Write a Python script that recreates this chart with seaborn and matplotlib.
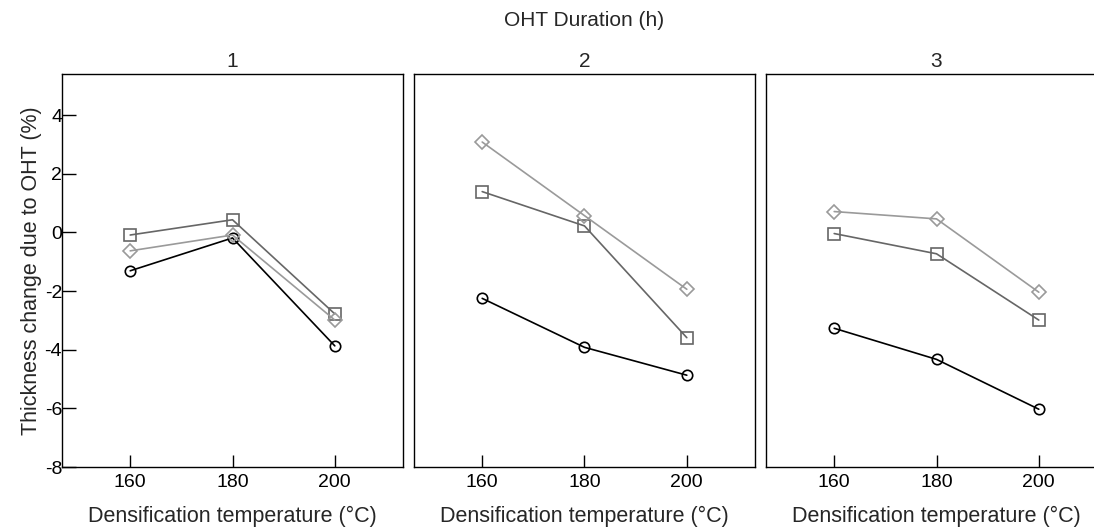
import matplotlib
matplotlib.use("Agg")
import matplotlib.pyplot as plt
import seaborn as sns

sns.set_theme(style="white")
plt.rcParams['font.family'] = ['Liberation Sans', 'DejaVu Sans']

temps = [160, 180, 200]
durations = ["1", "2", "3"]
# series per panel (duration 1, 2, 3)
circle_vals = [[-1.31, -0.19, -3.87], [-2.25, -3.92, -4.87], [-3.27, -4.33, -6.03]]
square_vals = [[-0.09, 0.43, -2.78], [1.39, 0.22, -3.59], [-0.04, -0.73, -2.99]]
diamond_vals = [[-0.63, -0.09, -2.99], [3.08, 0.57, -1.94], [0.71, 0.46, -2.04]]

series = [
    ("circle", circle_vals, "o", "#000000", 7.5),
    ("square", square_vals, "s", "#666666", 8.0),
    ("diamond", diamond_vals, "D", "#9a9a9a", 7.0),
]

W, H = 1094, 529
fig = plt.figure(figsize=(W / 100, H / 100), dpi=100)

lefts = [62, 414, 766]
pw = 341
top, bottom = 74, 467
for i, lx in enumerate(lefts):
    ax = fig.add_axes([lx / W, 1 - bottom / H, pw / W, (bottom - top) / H])
    for name, vals, mk, col, ms in series:
        sns.lineplot(x=temps, y=vals[i], ax=ax, color=col, marker=mk,
                     markerfacecolor="none", markeredgecolor=col, markersize=ms,
                     markeredgewidth=1.2, linewidth=1.2)
    ax.set_xlim(160 - 40 / 3, 200 + 40 / 3)
    ax.set_ylim(-8, 5.4)
    ax.set_xticks(temps)
    ax.set_xticklabels([str(t) for t in temps], fontsize=14)
    ax.tick_params(axis='x', direction='in', length=9, width=1, pad=5, colors='black', bottom=True)
    if i == 0:
        ax.set_yticks([-8, -6, -4, -2, 0, 2, 4])
        ax.set_yticklabels(["-8", "-6", "-4", "-2", "0", "2", "4"], fontsize=14)
        ax.tick_params(axis='y', direction='in', length=10, width=1, pad=0, left=True, colors='black')
        ax.set_ylabel("Thickness change due to OHT (%)", fontsize=15.5, labelpad=2)
    else:
        ax.set_yticks([])
        ax.set_ylabel("")
    ax.set_xlabel("Densification temperature (°C)", fontsize=15.5, labelpad=11)
    ax.set_title(durations[i], fontsize=15, pad=5)
    for s in ax.spines.values():
        s.set_color("black")
        s.set_linewidth(1.0)
    ax.grid(False)

fig.text((414 + pw / 2) / W, 1 - 20 / H, "OHT Duration (h)", ha="center", va="center", fontsize=15)

fig.savefig("out.png", dpi=100)
